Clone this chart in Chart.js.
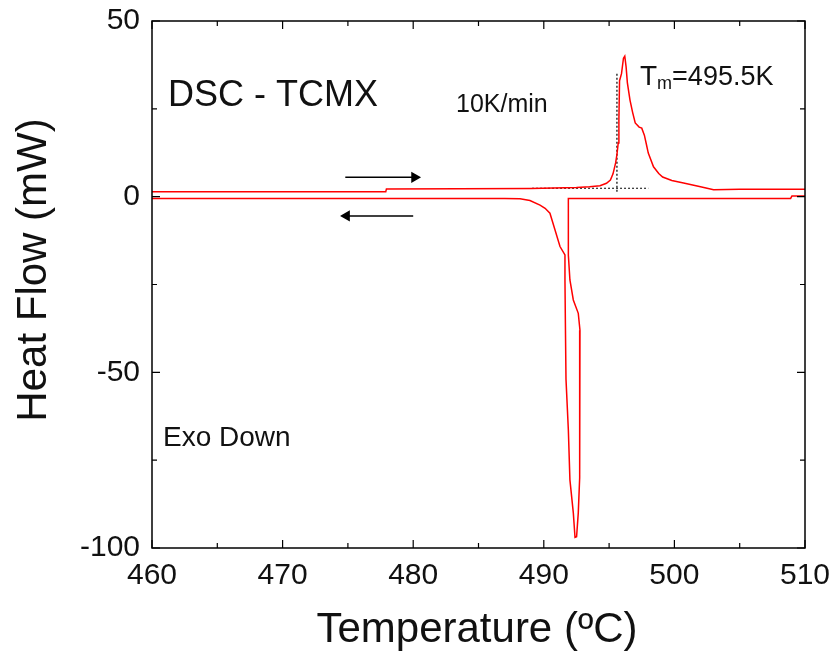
<!DOCTYPE html>
<html>
<head>
<meta charset="utf-8">
<script src="https://cdn.jsdelivr.net/npm/chart.js@4/dist/chart.umd.min.js"></script>
<style>
  html, body { margin: 0; padding: 0; background: #fff; }
  #wrap { width: 833px; height: 659px; }
</style>
</head>
<body>
<div id="wrap"><canvas id="dscChart" width="833" height="659"></canvas></div>
<script>
// heating run (upper trace)
const heatT = [460, 477.9, 477.95, 489, 492.5, 493.5, 494.3, 494.8, 495.1, 495.3, 495.5, 495.6, 495.7, 495.75, 495.8, 495.95, 496.1, 496.2, 496.3, 496.4, 496.6, 496.8, 497, 497.3, 497.5, 497.7, 497.85, 498, 498.4, 498.8, 499.1, 499.8, 500.7, 502, 503, 505, 510];
const heatQ = [1.4, 1.4, 2.2, 2.3, 2.6, 2.8, 3.1, 3.8, 4.7, 6.5, 9.6, 12, 15.3, 22, 33, 35, 39.4, 40, 37, 32.4, 27.5, 24, 21, 19.8, 19.5, 17.5, 15, 12.4, 8.5, 6.6, 5.6, 4.6, 3.9, 2.8, 2.0, 2.1, 2.1];

// cooling run (lower trace), in recorded order
const coolT = [510, 509, 508.9, 491.88, 491.88, 492.0, 492.26, 492.64, 492.77, 492.77, 492.77, 492.7, 492.64, 492.51, 492.39, 492.26, 492.0, 491.88, 491.7, 491.65, 491.62, 491.62, 491.24, 490.86, 490.47, 490.1, 489.71, 488.94, 488.18, 487, 460];
const coolQ = [0.2, 0.2, -0.5, -0.5, -16.6, -23.7, -29.4, -33.2, -38, -55, -70, -80, -90, -96.8, -97, -90, -80.6, -66.4, -52, -35, -23.7, -16.6, -14.2, -9.5, -4.7, -3.3, -2.4, -1.1, -0.6, -0.5, -0.5];

// onset construction (dotted)
const baseT = [489.1, 498];
const baseQ = [2.4, 2.4];
const onsetT = [495.6, 495.6];
const onsetQ = [35, 1.0];

// direction arrows
const arrowUpT = [474.8, 480.1];
const arrowUpQ = [5.5, 5.5];
const arrowDownT = [480.0, 474.9];
const arrowDownQ = [-5.5, -5.5];

const xTicks = [460, 470, 480, 490, 500, 510];
const yTicks = [-100, -50, 0, 50];

const FONT = "Arial, 'Liberation Sans', sans-serif";

function pts(xs, ys) {
    return xs.map((x, i) => ({ x: x, y: ys[i] }));
}

// stop tick labels from pushing the plot area inward
function noPad(s) {
    s.paddingTop = 0;
    s.paddingBottom = 0;
    s.paddingLeft = 0;
    s.paddingRight = 0;
}

const frame = {
    id: 'frame',
    afterDatasetsDraw(chart) {
        const ctx = chart.ctx;
        const a = chart.chartArea;
        const xs = chart.scales.x, ys = chart.scales.y;
        ctx.save();
        ctx.strokeStyle = '#000';
        ctx.lineWidth = 1.5;
        ctx.strokeRect(a.left, a.top, a.right - a.left, a.bottom - a.top);

        // inward ticks on all four sides
        ctx.lineWidth = 1.2;
        ctx.beginPath();
        for (let v = 460; v <= 510; v += 5) {
            let px = xs.getPixelForValue(v);
            let len = (v % 10 === 0) ? 8 : 5;
            ctx.moveTo(px, a.bottom); ctx.lineTo(px, a.bottom - len);
            ctx.moveTo(px, a.top); ctx.lineTo(px, a.top + len);
        }
        for (let v = -100; v <= 50; v += 25) {
            let py = ys.getPixelForValue(v);
            let len = (v % 50 === 0) ? 8 : 5;
            ctx.moveTo(a.left, py); ctx.lineTo(a.left + len, py);
            ctx.moveTo(a.right, py); ctx.lineTo(a.right - len, py);
        }
        ctx.stroke();

        // annotations
        ctx.fillStyle = '#111';
        ctx.textBaseline = 'alphabetic';
        ctx.textAlign = 'left';
        ctx.font = '36px ' + FONT;
        ctx.fillText('DSC - TCMX', 168, 106);
        ctx.font = '25px ' + FONT;
        ctx.fillText('10K/min', 456, 112);
        ctx.font = '28px ' + FONT;
        ctx.fillText('T', 640, 85);
        let tw = ctx.measureText('T').width;
        ctx.font = '18px ' + FONT;
        ctx.fillText('m', 640 + tw, 89);
        let mw = ctx.measureText('m').width;
        ctx.font = '27px ' + FONT;
        ctx.fillText('=495.5K', 640 + tw + mw, 85);
        ctx.font = '28px ' + FONT;
        ctx.fillText('Exo Down', 163, 446);

        // axis titles
        ctx.font = '42px ' + FONT;
        ctx.textAlign = 'center';
        ctx.textBaseline = 'middle';
        ctx.fillText('Temperature (ºC)', 477, 630);
        ctx.translate(34, 270);
        ctx.rotate(-Math.PI / 2);
        ctx.fillText('Heat Flow (mW)', 0, 0);
        ctx.restore();
    }
};

const ctx = document.getElementById('dscChart').getContext('2d');
const dscChart = new Chart(ctx, {
    type: 'scatter',
    data: {
        datasets: [
            {
                label: 'heating',
                data: pts(heatT, heatQ),
                showLine: true,
                borderColor: '#ff0000',
                borderWidth: 1.5,
                pointRadius: 0,
                tension: 0
            },
            {
                label: 'cooling',
                data: pts(coolT, coolQ),
                showLine: true,
                borderColor: '#ff0000',
                borderWidth: 1.5,
                pointRadius: 0,
                tension: 0
            },
            {
                label: 'baseline',
                data: pts(baseT, baseQ),
                showLine: true,
                borderColor: '#000',
                borderWidth: 1.2,
                borderDash: [2, 2],
                pointRadius: 0
            },
            {
                label: 'onset',
                data: pts(onsetT, onsetQ),
                showLine: true,
                borderColor: '#000',
                borderWidth: 1.2,
                borderDash: [2, 2],
                pointRadius: 0
            },
            {
                label: 'arrow heating',
                data: pts(arrowUpT, arrowUpQ),
                showLine: true,
                borderColor: '#000',
                backgroundColor: '#000',
                borderWidth: 1.5,
                pointStyle: 'triangle',
                pointRadius: [0, 5],
                pointRotation: 90
            },
            {
                label: 'arrow cooling',
                data: pts(arrowDownT, arrowDownQ),
                showLine: true,
                borderColor: '#000',
                backgroundColor: '#000',
                borderWidth: 1.5,
                pointStyle: 'triangle',
                pointRadius: [0, 5],
                pointRotation: -90
            }
        ]
    },
    options: {
        responsive: false,
        animation: false,
        layout: { padding: { top: 21, right: 28, left: 0, bottom: 0 } },
        plugins: {
            legend: { display: false },
            tooltip: { enabled: false }
        },
        scales: {
            x: {
                type: 'linear',
                min: 460,
                max: 510,
                afterBuildTicks: (s) => { s.ticks = xTicks.map(v => ({ value: v })); },
                afterFit: (s) => { s.height = 111; noPad(s); },
                grid: { display: false, drawTicks: false },
                border: { display: false },
                ticks: {
                    padding: 10,
                    color: '#111',
                    font: { family: FONT, size: 30 }
                }
            },
            y: {
                type: 'linear',
                min: -100,
                max: 50,
                afterBuildTicks: (s) => { s.ticks = yTicks.map(v => ({ value: v })); },
                afterFit: (s) => { s.width = 152; noPad(s); },
                grid: { display: false, drawTicks: false },
                border: { display: false },
                ticks: {
                    padding: 12,
                    color: '#111',
                    font: { family: FONT, size: 30 }
                }
            }
        }
    },
    plugins: [frame]
});
</script>
</body>
</html>
